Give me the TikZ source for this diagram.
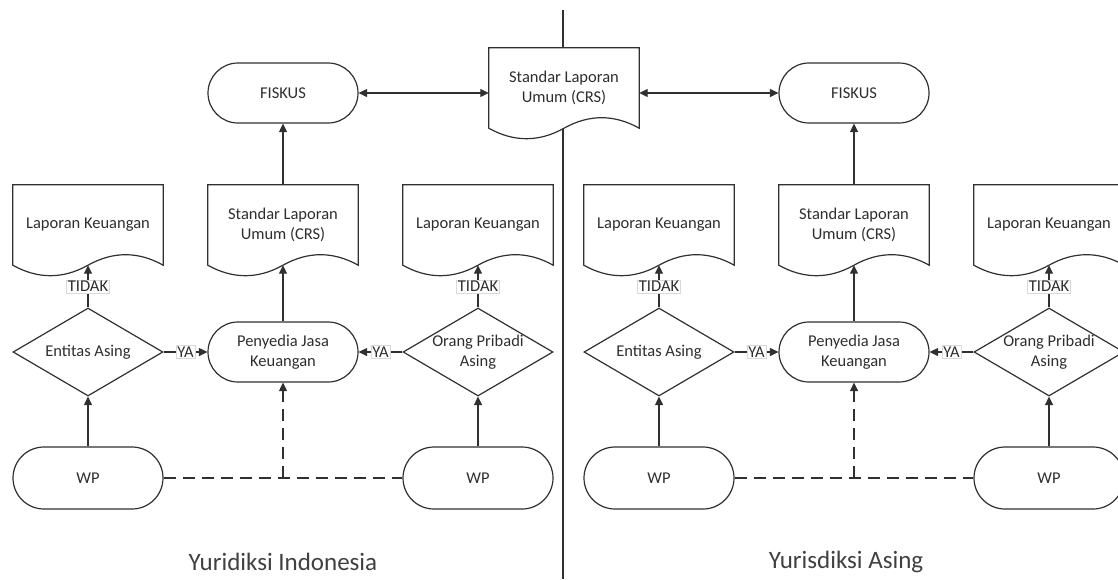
\documentclass[tikz,border=0pt]{standalone}
\usepackage{fontspec}
\setmainfont{Carlito}
\usetikzlibrary{shapes.geometric,arrows.meta,calc}
\pgfdeclarelayer{bg}
\pgfsetlayers{bg,main}
\definecolor{lc}{HTML}{303030}
\definecolor{txt}{HTML}{2E2E2E}
\definecolor{ttl}{HTML}{404040}
\begin{document}
\begin{tikzpicture}[x=1pt,y=-1pt,
  every node/.style={font=\fontsize{16.5}{20}\selectfont, text=txt},
  ln/.style={draw=lc, line width=1.2pt},
  arr/.style={ln, -{Triangle[length=8.5pt,width=8pt]}},
  both/.style={ln, {Triangle[length=8.5pt,width=8pt]}-{Triangle[length=8.5pt,width=8pt]}},
  term/.style={ln, rectangle, rounded corners=30pt, minimum width=150pt, minimum height=60pt, align=center, inner sep=0pt},
  wpbox/.style={term, minimum height=62pt, rounded corners=31pt},
  dia/.style={ln, diamond, minimum width=150pt, minimum height=88pt, inner sep=0pt},
  docbox/.style={rectangle, minimum width=150pt, minimum height=80pt, align=center, inner sep=0pt},
  lab/.style={fill=white, draw=black!15, line width=0.5pt, inner sep=1.2pt},
  dashl/.style={ln, dash pattern=on 12pt off 7pt},
  ttlnode/.style={font=\fontsize{25}{30}\selectfont, text=ttl}
]
\useasboundingbox (0,0) rectangle (1118,579);
\clip (0,0) rectangle (1118,579);

% ---- central document and fiskus
\node[docbox] (crsC) at (564,88) {Standar Laporan\\Umum (CRS)};
\node[term] (f1) at (283,93) {FISKUS};
\node[term] (f2) at (854,93) {FISKUS};

% ---- left side (Indonesia)
\node[docbox] (lk1) at (88,225) {Laporan Keuangan};
\node[docbox] (crs1) at (283,225) {Standar Laporan\\Umum (CRS)};
\node[docbox] (lk2) at (478,225) {Laporan Keuangan};
\node[dia, label={[align=center]center:Entitas Asing}] (ea1) at (88,352) {};
\node[term] (pj1) at (283,352) {Penyedia Jasa\\Keuangan};
\node[dia, label={[align=center]center:Orang Pribadi\\Asing}] (op1) at (478,352) {};
\node[wpbox] (wp1) at (88,478) {WP};
\node[wpbox] (wp2) at (478,478) {WP};

% ---- right side (Asing)
\node[docbox] (lk3) at (659,225) {Laporan Keuangan};
\node[docbox] (crs2) at (854,225) {Standar Laporan\\Umum (CRS)};
\node[docbox] (lk4) at (1049,225) {Laporan Keuangan};
\node[dia, label={[align=center]center:Entitas Asing}] (ea2) at (659,352) {};
\node[term] (pj2) at (854,352) {Penyedia Jasa\\Keuangan};
\node[dia, label={[align=center]center:Orang Pribadi\\Asing}] (op2) at (1049,352) {};
\node[wpbox] (wp3) at (659,478) {WP};
\node[wpbox] (wp4) at (1049,478) {WP};

% ---- titles
\node[ttlnode] (t1) at (283,562) {Yuridiksi Indonesia};
\node[ttlnode] (t2) at (846,562) {Yurisdiksi Asing};

% ---- background: divider and document shapes
\begin{pgfonlayer}{bg}
  \draw[draw=lc, line width=1.1pt] (563,10) -- (563,579);
  \foreach \n in {crsC,lk1,crs1,lk2,lk3,crs2,lk4}{
    \filldraw[ln, fill=white] (\n.south east) -- (\n.north east) -- (\n.north west) -- (\n.south west)
      .. controls +(25,14) and +(-25,14) .. (\n.south)
      .. controls +(25,-14) and +(-25,-14) .. (\n.south east) -- cycle;
  }
\end{pgfonlayer}

% ---- connectors top
\draw[both] (f1.east) -- (f1.east -| crsC.west);
\draw[both] (crsC.east |- f2.west) -- (f2.west);

% ---- connectors left
\draw[arr] (crs1.north) -- (f1.south);
\draw[arr] (pj1.north) -- (crs1.south);
\draw[arr] (ea1.north) -- node[lab]{TIDAK} (lk1.south);
\draw[arr] (op1.north) -- node[lab]{TIDAK} (lk2.south);
\draw[arr] (ea1.east) -- node[lab]{YA} (pj1.west);
\draw[arr] (op1.west) -- node[lab]{YA} (pj1.east);
\draw[arr] (wp1.north) -- (ea1.south);
\draw[arr] (wp2.north) -- (op1.south);
\draw[dashl] (wp1.east) -- (wp2.west);
\coordinate (j1) at (wp1.east -| pj1.south);
\draw[dashl, arr] (j1) -- (pj1.south);

% ---- connectors right
\draw[arr] (crs2.north) -- (f2.south);
\draw[arr] (pj2.north) -- (crs2.south);
\draw[arr] (ea2.north) -- node[lab]{TIDAK} (lk3.south);
\draw[arr] (op2.north) -- node[lab]{TIDAK} (lk4.south);
\draw[arr] (ea2.east) -- node[lab]{YA} (pj2.west);
\draw[arr] (op2.west) -- node[lab]{YA} (pj2.east);
\draw[arr] (wp3.north) -- (ea2.south);
\draw[arr] (wp4.north) -- (op2.south);
\draw[dashl] (wp3.east) -- (wp4.west);
\coordinate (j2) at (wp3.east -| pj2.south);
\draw[dashl, arr] (j2) -- (pj2.south);
\end{tikzpicture}
\end{document}
